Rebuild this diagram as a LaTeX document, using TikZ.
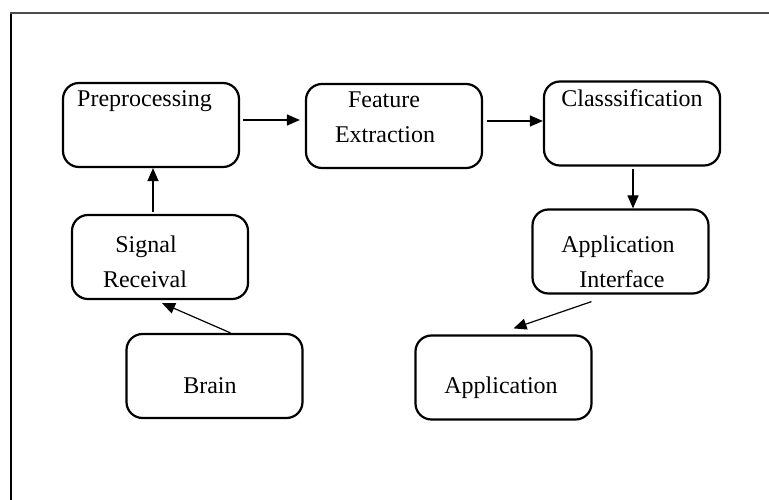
\documentclass[tikz,border=0pt]{standalone}
\usepackage{fontspec}
\setmainfont{Liberation Serif}
\usetikzlibrary{arrows.meta}
\begin{document}
\begin{tikzpicture}[x=1pt,y=-1pt,
    stage/.style={draw, line width=2.2pt, rounded corners=16pt,
                  minimum width=176pt, minimum height=84pt, inner sep=0pt},
    txt/.style={anchor=base, inner sep=0pt, font=\fontsize{24}{28}\selectfont},
    arr/.style={line width=1.2pt, -{Triangle[length=13pt,width=11pt]}}]
    \useasboundingbox (0,0) rectangle (769,500);

    % frame: left and top edge only
    \draw [line width=2pt] (11,500) -- (11,13);
    \draw [line width=2pt,black!70] (10,13) -- (769,13);

    % the boxes
    \node [stage] (pp) at (151,125) {}; %preprocessing
    \node [stage] (fe) at (394,126) {}; %feature extraction
    \node [stage] (cl) at (632,123.5) {}; %classification
    \node [stage] (ai) at (620.5,251.5) {}; %application interface
    \node [stage] (ap) at (503.5,377.5) {}; %application
    \node [stage] (sr) at (160,257) {}; %signal receival
    \node [stage] (br) at (214.5,376) {}; %brain

    % the texts
    \node [txt,anchor=base west] (pp-t) at (77,107) {Preprocessing};
    \node [txt] (fe-t1) at (384,108) {Feature};
    \node [txt] (fe-t2) at (385,143) {Extraction};
    \node [txt] (cl-t) at (632,107) {Classsification};
    \node [txt] (ai-t1) at (618,252) {Application};
    \node [txt] (ai-t2) at (622,287) {Interface};
    \node [txt] (ap-t) at (501,393) {Application};
    \node [txt] (sr-t1) at (146,252) {Signal};
    \node [txt] (sr-t2) at (145,287) {Receival};
    \node [txt] (br-t) at (210,393) {Brain};

    % the arrows
    \draw [arr] ([shift={(16,0)}]br.north) -- ([shift={(2,3)}]sr.south);
    \draw [arr] ([shift={(-7,-2)}]sr.north) -- ([shift={(2,0)}]pp.south);
    \draw [arr] ([shift={(3,-5)}]pp.east) -- ([shift={(-5,-6)}]fe.west);
    \draw [arr] ([shift={(4,-5)}]fe.east) -- ([shift={(0,-2.5)}]cl.west);
    \draw [arr] ([shift={(1,2)}]cl.south) -- ([shift={(12.5,0)}]ai.north);
    \draw [arr] ([shift={(-29,7)}]ai.south) -- ([shift={(10,-6)}]ap.north);

\end{tikzpicture}
\end{document}
